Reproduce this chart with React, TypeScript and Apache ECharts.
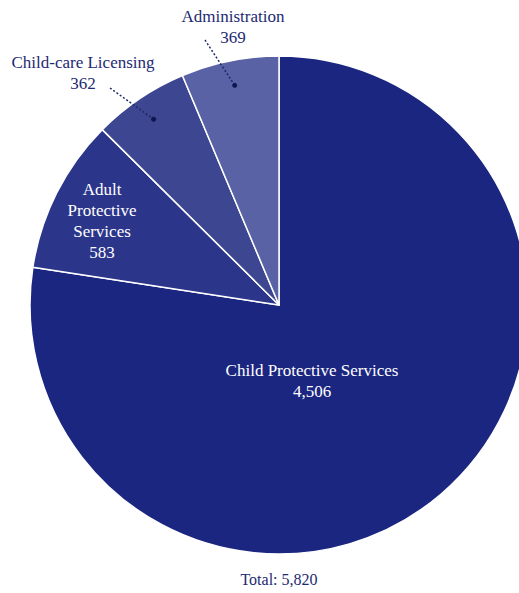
import React, { useEffect, useRef } from "react";
import * as echarts from "echarts";

const categories = ["Child Protective Services", "Adult Protective Services", "Child-care Licensing", "Administration"];
const values = [4506, 583, 362, 369];
const labelTexts = [
  "Child Protective Services\n4,506",
  "Adult\nProtective\nServices\n583",
  "Child-care Licensing\n362",
  "Administration\n369",
];
const totalLabel = "Total: 5,820";

const colors = ["#1b2680", "#2b368b", "#3d4690", "#5a62a6"];
const labelColors = ["#ffffff", "#ffffff", "#1d2a72", "#1d2a72"];
const labelPos: [number, number][] = [
  [312, 381],
  [102, 221],
  [83, 73],
  [233, 27],
];
const leaderStarts: ([number, number] | null)[] = [null, null, [110, 88], [205, 40]];

const CX = 279;
const CY = 305;
const R = 249;
const FONT = "'Liberation Serif', 'DejaVu Serif', serif";

export default function App() {
  const ref = useRef<HTMLDivElement>(null);
  useEffect(() => {
    document.body.style.margin = "0";
    const chart = echarts.init(ref.current!, null, { renderer: "svg" });
    const total = values.reduce((a, b) => a + b, 0);
    const graphics: any[] = [];
    let cum = 0;
    values.forEach((v, i) => {
      const mid = ((cum + v / 2) / total) * Math.PI * 2;
      cum += v;
      const s = leaderStarts[i];
      if (!s) return;
      const px = CX + Math.sin(mid) * R * 0.9;
      const py = CY - Math.cos(mid) * R * 0.9;
      graphics.push({
        type: "line",
        shape: { x1: s[0], y1: s[1], x2: px, y2: py },
        style: { stroke: "#1d2a6a", lineWidth: 1.5, lineDash: [2, 2] },
        z: 10,
      });
      graphics.push({
        type: "circle",
        shape: { cx: px, cy: py, r: 2.5 },
        style: { fill: "#0f1650" },
        z: 10,
      });
    });
    graphics.push({
      type: "text",
      x: CX,
      y: 579,
      style: {
        text: totalLabel,
        fill: "#1d2a72",
        font: `16px ${FONT}`,
        textAlign: "center",
        textVerticalAlign: "middle",
      },
    });
    chart.setOption({
      animation: false,
      backgroundColor: "#ffffff",
      graphic: graphics,
      series: [
        {
          type: "pie",
          center: [CX, CY],
          radius: R,
          startAngle: 90,
          clockwise: true,
          silent: true,
          itemStyle: { borderColor: "#ffffff", borderWidth: 1.5 },
          label: {
            show: true,
            position: "inside",
            fontFamily: FONT,
            fontSize: 17,
            lineHeight: 21,
            align: "center",
          },
          labelLine: { show: false },
          labelLayout: (params: any) => {
            const p = labelPos[params.dataIndex];
            return { x: p[0], y: p[1], align: "center", verticalAlign: "middle" };
          },
          data: categories.map((c, i) => ({
            name: c,
            value: values[i],
            itemStyle: { color: colors[i] },
            label: { formatter: labelTexts[i], color: labelColors[i] },
          })),
        },
      ],
    });
    return () => chart.dispose();
  }, []);
  return <div ref={ref} style={{ width: 519, height: 593 }} />;
}
